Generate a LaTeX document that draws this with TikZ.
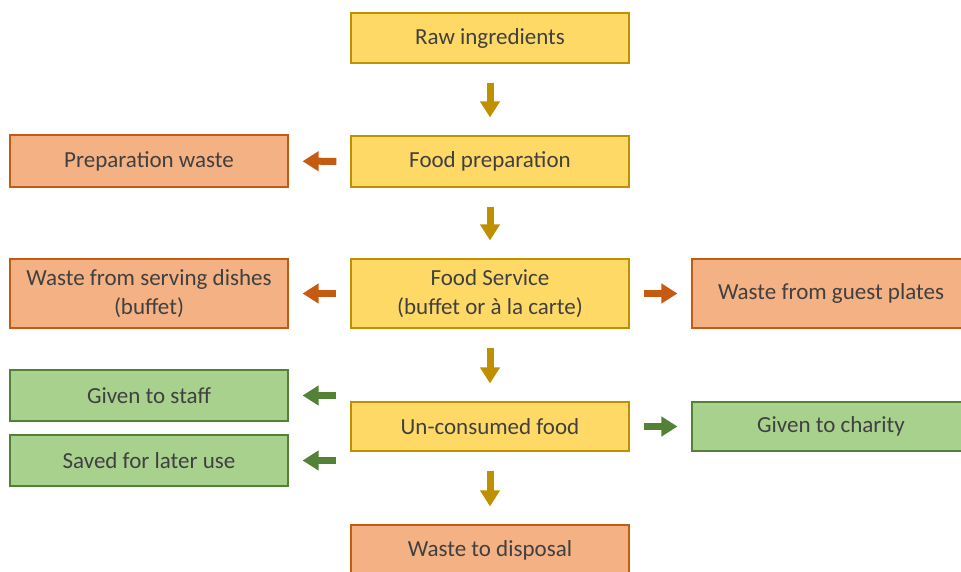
\documentclass[tikz,border=0pt]{standalone}
\usepackage{fontspec}
\setmainfont{Carlito}
\usetikzlibrary{arrows.meta}
\definecolor{yfill}{HTML}{FFD966}
\definecolor{ydraw}{HTML}{BF9000}
\definecolor{ofill}{HTML}{F4B183}
\definecolor{odraw}{HTML}{C55A11}
\definecolor{gfill}{HTML}{A9D18E}
\definecolor{gdraw}{HTML}{538135}
\definecolor{txt}{HTML}{404040}
\tikzset{
  box/.style={draw, line width=1.1pt, minimum width=278pt, inner sep=0pt, align=center,
    text=txt, font=\fontsize{23pt}{28.5pt}\selectfont},
  ybox/.style={box, fill=yfill, draw=ydraw},
  obox/.style={box, fill=ofill, draw=odraw},
  gbox/.style={box, fill=gfill, draw=gdraw},
  blk/.style={line width=7pt, -{Triangle[width=19pt,length=16pt]}},
  yarr/.style={blk, draw=ydraw, shorten <=19pt, shorten >=18pt},
  oarr/.style={blk, draw=odraw, shorten <=14pt, shorten >=14pt},
  garr/.style={blk, draw=gdraw, shorten <=14pt, shorten >=14pt},
}
\begin{document}
\begin{tikzpicture}[x=1pt,y=-1pt]
\useasboundingbox (0,0) rectangle (961,572);
\fill[white] (0,0) rectangle (961,572);
\node[ybox, minimum height=50pt] (raw) at (490,38) {Raw ingredients};
\node[ybox, minimum height=51pt] (prep) at (490,161.5) {Food preparation};
\node[obox, minimum height=52pt] (prepw) at (149,161) {Preparation waste};
\node[ybox, minimum height=69pt] (serv) at (490,293.5) {Food Service\\(buffet or à la carte)};
\node[obox, minimum height=69pt] (servw) at (149,293.5) {Waste from serving dishes\\(buffet)};
\node[obox, minimum height=69pt] (guest) at (831,293.5) {Waste from guest plates};
\node[ybox, minimum height=49pt] (uncons) at (490,426.5) {Un-consumed food};
\node[gbox, minimum height=51pt] (staff) at (149,395.5) {Given to staff};
\node[gbox, minimum height=51pt] (saved) at (149,460.5) {Saved for later use};
\node[gbox, minimum height=49pt] (charity) at (831,426.5) {Given to charity};
\node[obox, minimum height=50pt] (disp) at (490,550) {Waste to disposal};

\draw[yarr] (raw) -- (prep);
\draw[yarr] (prep) -- (serv);
\draw[yarr] (serv) -- (uncons);
\draw[yarr] (uncons) -- (disp);
\draw[oarr] (prep) -- (prepw);
\draw[oarr] (serv) -- (servw);
\draw[oarr] (serv) -- (guest);
\draw[garr] (uncons.west |- staff.east) -- (staff.east);
\draw[garr] (uncons.west |- saved.east) -- (saved.east);
\draw[garr] (uncons) -- (charity);
\end{tikzpicture}
\end{document}
